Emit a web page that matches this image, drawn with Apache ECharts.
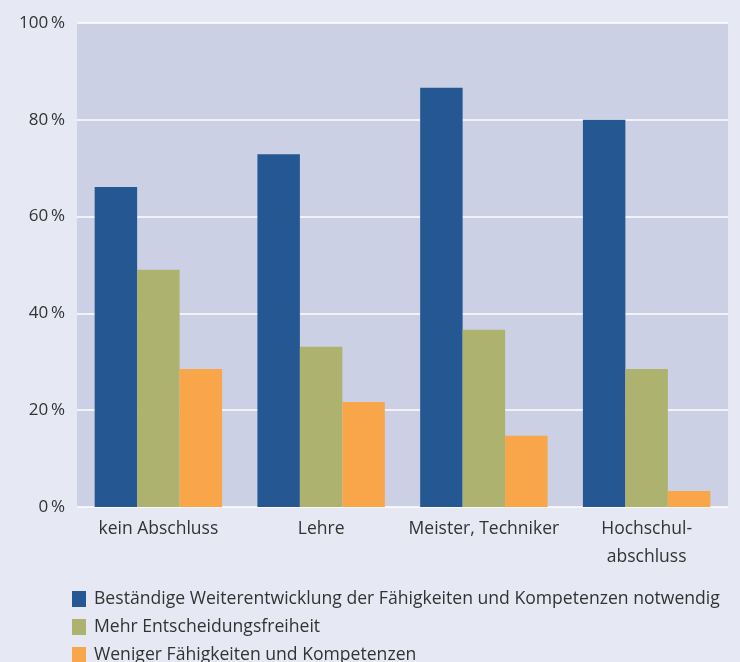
<!DOCTYPE html>
<html>
<head>
<meta charset="utf-8">
<script src="https://cdn.jsdelivr.net/npm/echarts@6/dist/echarts.min.js"></script>
<style>
  html, body { margin: 0; padding: 0; background: #e6e8f4; }
  #chart { width: 740px; height: 662px; }
</style>
</head>
<body>
<div id="chart"></div>
<script>
// Kategorien und Werte (in %)
const categories = ['kein Abschluss', 'Lehre', 'Meister, Techniker', 'Hochschul-\nabschluss']
const seriesNames = [
  'Beständige Weiterentwicklung der Fähigkeiten und Kompetenzen notwendig',
  'Mehr Entscheidungsfreiheit',
  'Weniger Fähigkeiten und Kompetenzen'
]
const weiterentwicklung = [66.1, 72.9, 86.6, 80.0]
const entscheidung = [49.0, 33.1, 36.6, 28.5]
const weniger = [28.5, 21.7, 14.7, 3.3]
const colors = ['#255893', '#aeb26f', '#f9a54a']

const myChart = echarts.init(document.getElementById('chart'))
const font = 'Open Sans'

const option = {
  backgroundColor: '#e6e8f4',
  animation: false,
  grid: {
    left: 77,
    right: 12,
    top: 23,
    bottom: 155,
    show: true,
    backgroundColor: '#cbd0e4',
    borderWidth: 0
  },
  legend: {
    orient: 'vertical',
    left: 72,
    top: 590,
    height: 120,
    padding: 0,
    itemWidth: 14,
    itemHeight: 16,
    itemGap: 10,
    icon: 'rect',
    textStyle: { fontFamily: font, fontSize: 17.6, color: '#333', padding: [0, 0, 0, 3] },
    data: seriesNames
  },
  xAxis: {
    type: 'category',
    data: categories,
    axisLine: { show: false },
    axisTick: { show: false },
    axisLabel: {
      interval: 0,
      fontFamily: font,
      fontSize: 17.5,
      color: '#333',
      margin: 8,
      lineHeight: 28
    }
  },
  yAxis: {
    type: 'value',
    min: 0,
    max: 100,
    interval: 20,
    axisLine: { show: false },
    axisTick: { show: false },
    splitLine: {
      lineStyle: { color: '#ffffff', width: 1.5 }
    },
    axisLabel: {
      fontFamily: font,
      fontSize: 17,
      color: '#333',
      margin: 12,
      formatter: v => v + '\u2009%'
    }
  },
  series: [
    { name: seriesNames[0], type: 'bar', data: weiterentwicklung, color: colors[0], barGap: '0%', barCategoryGap: '21.7%' },
    { name: seriesNames[1], type: 'bar', data: entscheidung, color: colors[1], barGap: '0%', barCategoryGap: '21.7%' },
    { name: seriesNames[2], type: 'bar', data: weniger, color: colors[2], barGap: '0%', barCategoryGap: '21.7%' }
  ]
}

myChart.setOption(option)
</script>
</body>
</html>
